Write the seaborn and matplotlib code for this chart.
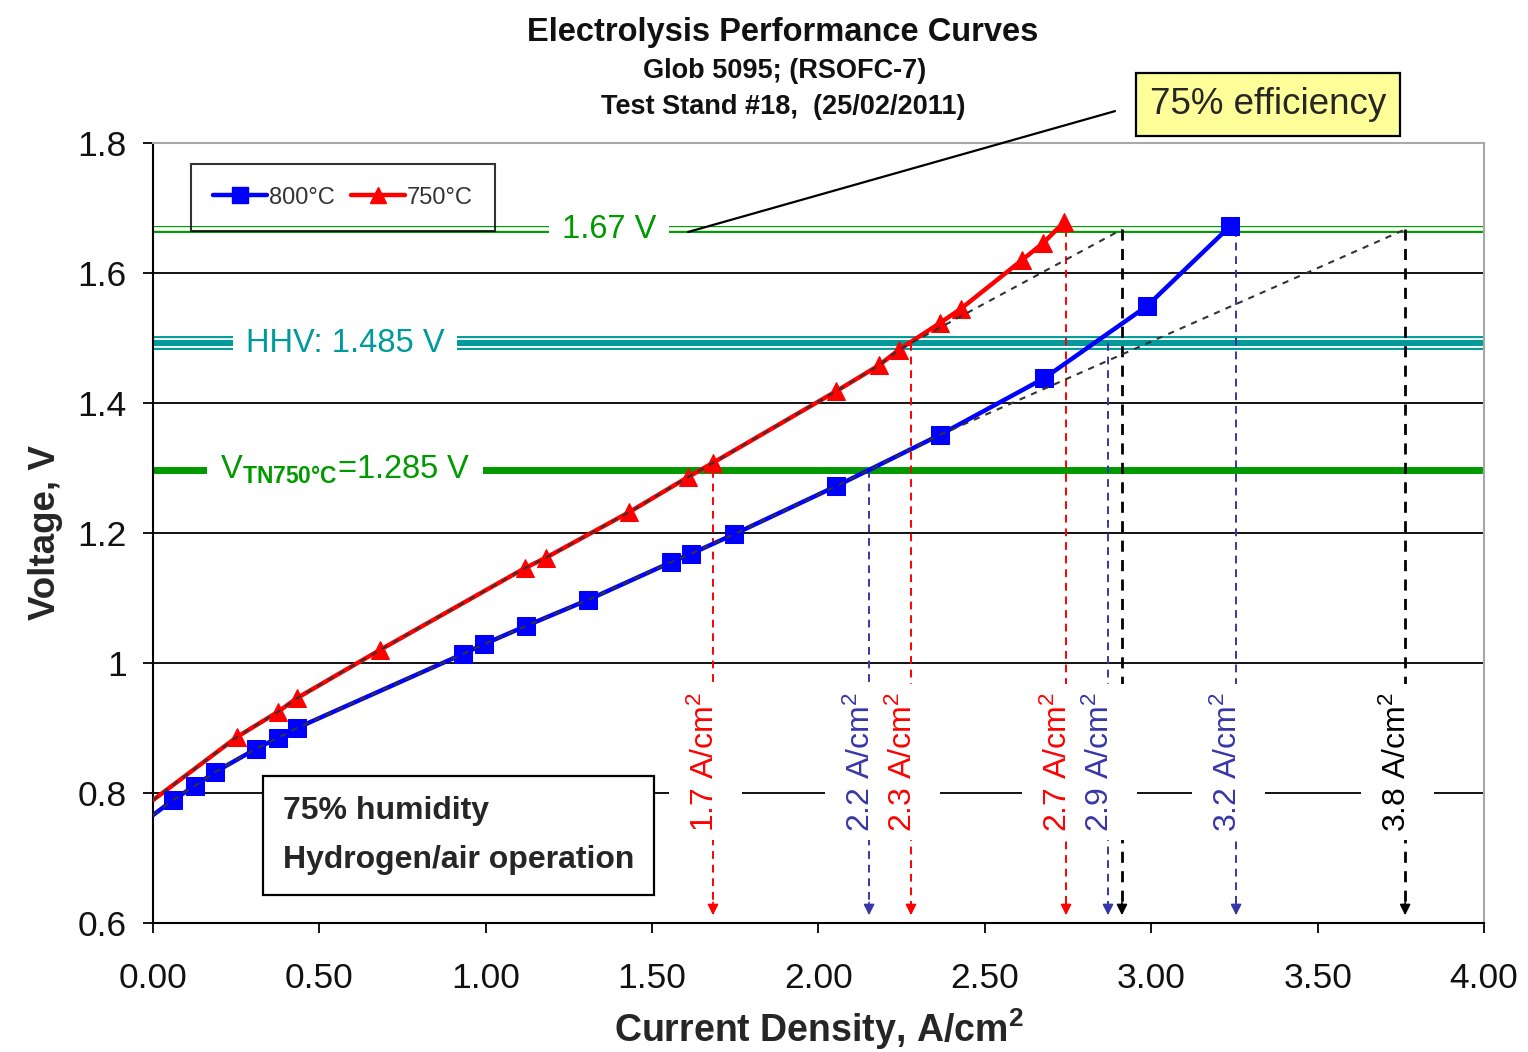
import numpy as np
import pandas as pd
import matplotlib
matplotlib.use("Agg")
import matplotlib.pyplot as plt
import seaborn as sns
from matplotlib.lines import Line2D
from matplotlib.patches import Rectangle

# ---------------- data ----------------
cd_800 = [0.00, 0.060, 0.126, 0.186, 0.310, 0.376, 0.433, 0.932, 0.995, 1.121,
          1.307, 1.557, 1.617, 1.746, 2.053, 2.365, 2.678, 2.987, 3.237]
v_800 = [0.766, 0.789, 0.811, 0.832, 0.868, 0.885, 0.900, 1.014, 1.029, 1.057,
         1.097, 1.155, 1.168, 1.198, 1.272, 1.351, 1.438, 1.549, 1.672]

cd_750 = [0.00, 0.252, 0.376, 0.433, 0.682, 1.118, 1.181, 1.431, 1.608, 1.683,
          2.053, 2.182, 2.242, 2.365, 2.428, 2.612, 2.675, 2.738]
v_750 = [0.789, 0.886, 0.925, 0.946, 1.020, 1.146, 1.162, 1.232, 1.286, 1.308,
         1.418, 1.458, 1.482, 1.523, 1.545, 1.620, 1.646, 1.678]

series_names = ["800°C", "750°C"]

# reference voltage levels
v_eff75 = 1.667
v_hhv = 1.492
v_tn = 1.297
ref_labels = ["1.67 V", "HHV: 1.485 V", r"V$_{\mathbf{TN750°C}}$=1.285 V"]
ref_label_x = [1.37, 0.577, 0.577]

# linear extrapolations (dashed): index where they leave the curve, end point
ext_750_last = 12
ext_750_end = (2.912, 1.667)
ext_800_last = 15
ext_800_end = (3.763, 1.667)

# drop arrows
arrow_x = [1.683, 2.152, 2.278, 2.744, 2.870, 2.912, 3.255, 3.763]
arrow_top = [1.297, 1.297, 1.492, 1.667, 1.492, 1.667, 1.667, 1.667]
arrow_kind = ["r", "b", "r", "r", "b", "k", "b", "k"]
arrow_label = ["1.7", "2.2", "2.3", "2.7", "2.9", None, "3.2", "3.8"]

x_ticks = [0.0, 0.5, 1.0, 1.5, 2.0, 2.5, 3.0, 3.5, 4.0]
x_tick_labels = ["0.00", "0.50", "1.00", "1.50", "2.00", "2.50", "3.00", "3.50", "4.00"]
y_ticks = [0.6, 0.8, 1.0, 1.2, 1.4, 1.6, 1.8]
y_tick_labels = ["0.6", "0.8", "1", "1.2", "1.4", "1.6", "1.8"]

# ---------------- style ----------------
sns.set_theme(style="white")
plt.rcParams["font.family"] = ["Liberation Sans", "DejaVu Sans"]
plt.rcParams["mathtext.fontset"] = "custom"
plt.rcParams["mathtext.rm"] = "Liberation Sans"
plt.rcParams["mathtext.bf"] = "Liberation Sans:bold"
plt.rcParams["mathtext.it"] = "Liberation Sans:italic"

RED = "#FF0000"
BLUE = "#0000FF"
SLATE = "#3636A8"
GREEN = "#009A00"
TEAL = "#009A9A"
kind_color = {"r": RED, "b": SLATE, "k": "black"}

fig = plt.figure(figsize=(15.28, 10.52), dpi=100)
ax = fig.add_axes([0.1001, 0.1226, 0.8711, 0.7415])

df800 = pd.DataFrame({"cd": cd_800, "v": v_800})
df750 = pd.DataFrame({"cd": cd_750, "v": v_750})

ax.set_xlim(0, 4.0)
ax.set_ylim(0.6, 1.8)
ax.set_yticks(y_ticks)
ax.set_yticklabels(y_tick_labels)
ax.set_xticks(x_ticks)
ax.set_xticklabels(x_tick_labels)
for yv in y_ticks[1:-1]:
    ax.axhline(yv, color="black", lw=1.3, zorder=1)

# reference lines
ax.axhline(v_eff75, color=GREEN, lw=5.0, zorder=2)
ax.axhline(v_eff75, color="white", lw=2.6, zorder=2.1)
ax.axhline(v_hhv, color=TEAL, lw=10.0, zorder=2)
ax.axhline(v_hhv, color="white", lw=7.0, zorder=2.1)
ax.axhline(v_hhv, color=TEAL, lw=4.3, zorder=2.2)
ax.axhline(v_tn, color=GREEN, lw=5.0, zorder=2)

ref_levels = [v_eff75, v_hhv, v_tn]
ref_colors = [GREEN, TEAL, GREEN]
for lbl, xl, yl, c in zip(ref_labels, ref_label_x, ref_levels, ref_colors):
    ax.text(xl, yl, lbl, color=c, fontsize=23.5, ha="center", va="center", zorder=6,
            bbox=dict(boxstyle="square,pad=0.4", fc="white", ec="none"))

# dashed extrapolation lines
ex750 = list(cd_750[:ext_750_last + 1]) + [ext_750_end[0]]
ey750 = list(v_750[:ext_750_last + 1]) + [ext_750_end[1]]
ex800 = list(cd_800[:ext_800_last + 1]) + [ext_800_end[0]]
ey800 = list(v_800[:ext_800_last + 1]) + [ext_800_end[1]]

# curves
sns.lineplot(data=df750, x="cd", y="v", color=RED, lw=3.2, marker="^", ms=13.5,
             markeredgecolor=RED, markevery=list(range(1, len(cd_750))),
             ax=ax, zorder=4, legend=False)
sns.lineplot(data=df800, x="cd", y="v", color=BLUE, lw=3.2, marker="s", ms=12.5,
             markeredgecolor=BLUE, markevery=list(range(1, len(cd_800))),
             ax=ax, zorder=4, legend=False)
ax.plot(ex750, ey750, color="#333333", lw=1.5, ls=(0, (3, 3)), zorder=4.5)
ax.plot(ex800, ey800, color="#333333", lw=1.5, ls=(0, (3, 3)), zorder=4.5)

# drop arrows
arrow_bottom = 0.612
for xa, yt, k in zip(arrow_x, arrow_top, arrow_kind):
    c = kind_color[k]
    lw = 2.0 if k == "k" else 1.4
    ax.plot([xa, xa], [yt, arrow_bottom + 0.012], color=c, lw=lw,
            ls=(0, (4, 3)), zorder=3)
    ax.annotate("", xy=(xa, arrow_bottom), xytext=(xa, arrow_bottom + 0.02),
                arrowprops=dict(arrowstyle="-|>", color=c, lw=1.2,
                                mutation_scale=16, shrinkA=0, shrinkB=0),
                zorder=3)

for xa, k, lbl in zip(arrow_x, arrow_kind, arrow_label):
    if lbl is None:
        continue
    c = kind_color[k]
    xt = xa - 0.022
    ax.add_patch(Rectangle((xt - 0.11, 0.788), 0.22, 0.024, fc="white",
                           ec="none", zorder=5))
    ax.text(xt, 0.848, f"{lbl} A/cm$^2$", rotation=90, color=c, fontsize=23,
            ha="center", va="center", zorder=6,
            bbox=dict(boxstyle="square,pad=0.25", fc="white", ec="none"))

# humidity box
ax.text(0.0977, 0.163, "75% humidity\nHydrogen/air operation", transform=ax.transAxes,
        fontsize=23, fontweight="bold", ha="left", va="top", linespacing=1.85,
        zorder=7, bbox=dict(boxstyle="square,pad=0.62", fc="white", ec="black", lw=1.6))

# 75% efficiency callout
ax.annotate("75% efficiency", xy=(1.608, 1.663), xycoords="data",
            xytext=(0.8377, 1.049), textcoords="axes fraction",
            fontsize=26.5, ha="center", va="center", zorder=8,
            bbox=dict(boxstyle="square,pad=0.38", fc="#FFFF99", ec="black", lw=1.6),
            arrowprops=dict(arrowstyle="-", color="black", lw=1.6, relpos=(0, 0.6),
                            shrinkA=15, shrinkB=0), annotation_clip=False)

# legend
handles = [Line2D([], [], color=BLUE, lw=3.2, marker="s", ms=11),
           Line2D([], [], color=RED, lw=3.2, marker="^", ms=12)]
leg = ax.legend(handles, series_names, ncol=2, loc="upper left",
                bbox_to_anchor=(0.0195, 0.988), frameon=True, fancybox=False,
                edgecolor="black", fontsize=17, handlelength=2.3,
                handletextpad=0.05, columnspacing=0.7, borderpad=0.95,
                labelcolor="#333333")
leg.get_frame().set_facecolor("none")
leg.get_frame().set_linewidth(1.5)
leg.set_zorder(8)

# axes styling
for s in ["left", "bottom"]:
    ax.spines[s].set_color("black")
    ax.spines[s].set_linewidth(1.5)
for s in ["top", "right"]:
    ax.spines[s].set_color("#A8A8A8")
    ax.spines[s].set_linewidth(1.5)
ax.tick_params(axis="both", which="major", direction="out", length=7, width=1.3,
               color="black", labelsize=25.5, labelcolor="#111111",
               bottom=True, left=True)
ax.tick_params(axis="x", pad=21)
ax.tick_params(axis="y", pad=12)

ax.set_xlabel(r"Current Density, A/cm$^\mathbf{2}$", fontsize=27, fontweight="bold",
              labelpad=8)
ax.set_ylabel("Voltage, V", fontsize=26.5, fontweight="bold", labelpad=10)

# titles
fig.text(0.5124, 0.9695, "Electrolysis Performance Curves", fontsize=23.5,
         fontweight="bold", ha="center", va="center", color="#111111")
fig.text(0.5137, 0.9325, "Glob 5095; (RSOFC-7)", fontsize=19.5,
         fontweight="bold", ha="center", va="center", color="#111111")
fig.text(0.5124, 0.8985, "Test Stand #18,  (25/02/2011)", fontsize=19.5,
         fontweight="bold", ha="center", va="center", color="#111111")

fig.savefig("out.png", dpi=100)
